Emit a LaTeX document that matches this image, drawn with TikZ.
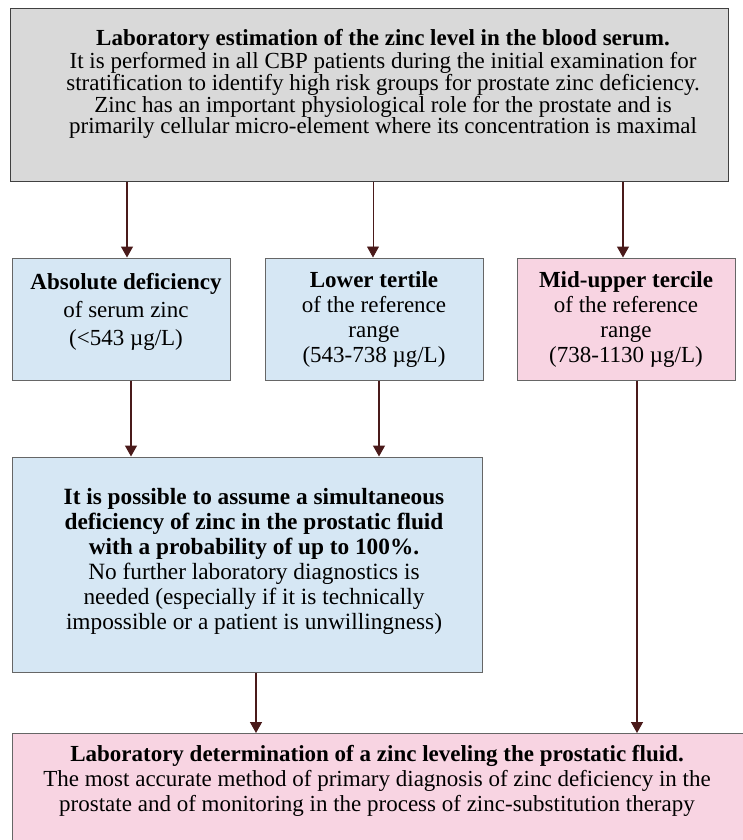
\documentclass[tikz,border=0pt]{standalone}
\usepackage{fontspec}
\setmainfont{Liberation Serif}
\usepackage{xcolor}
\usetikzlibrary{arrows.meta}

\definecolor{serumgray}{RGB}{217,217,217}
\definecolor{deficblue}{RGB}{214,231,244}
\definecolor{normpink}{RGB}{248,212,226}
\definecolor{linkbrown}{RGB}{74,26,26}

\tikzset{
  box/.style={draw=gray!80!black, line width=1, inner sep=0, align=center},
  link/.style={draw=linkbrown, line width=1.4, -{Triangle[width=12,length=11]}},
  txt/.style={inner sep=0, align=center}
}

\begin{document}
\begin{tikzpicture}[x=1pt,y=-1pt]
\useasboundingbox (0,0) rectangle (742,840);

% top box
\node[box, draw=black!75, fill=serumgray, minimum width=718, minimum height=172] (serum) at (369,95) {};
\node[txt, font=\fontsize{23}{21}\selectfont] (serumtxt) at (383,84) {\textbf{Laboratory estimation of the zinc level in the blood serum.}\\
It is performed in all CBP patients during the initial examination for\\
stratification to identify high risk groups for prostate zinc deficiency.\\
Zinc has an important physiological role for the prostate and is\\
primarily cellular micro-element where its concentration is maximal};

% three ranges
\node[box, fill=deficblue, minimum width=218, minimum height=122] (absdef) at (121,319) {};
\node[txt, font=\fontsize{23}{28}\selectfont] (absdeftxt) at (126,312) {\textbf{Absolute deficiency}\\ of serum zinc\\ (<543 µg/L)};
\node[box, fill=deficblue, minimum width=218, minimum height=122, font=\fontsize{23}{25}\selectfont] (lowter) at (374,319) {\textbf{Lower tertile}\\ of the reference\\ range\\ (543-738 µg/L)};
\node[box, fill=normpink, minimum width=218, minimum height=122, font=\fontsize{23}{25}\selectfont] (midup) at (626,319) {\textbf{Mid-upper tercile}\\ of the reference\\ range\\ (738-1130 µg/L)};

% assumption
\node[box, fill=deficblue, minimum width=470, minimum height=215] (assume) at (247,564.5) {};
\node[txt, font=\fontsize{23.3}{25}\selectfont] (assumetxt) at (254,561) {\textbf{It is possible to assume a simultaneous}\\
\textbf{deficiency of zinc in the prostatic fluid}\\
\textbf{with a probability of up to 100\%.}\\
No further laboratory diagnostics is\\
needed (especially if it is technically\\
impossible or a patient is unwillingness)};

% prostatic fluid
\node[box, fill=normpink, minimum width=760, minimum height=140, anchor=north west] (prostate) at (12,733) {};
\node[txt, font=\fontsize{23}{25}\selectfont] (prostatetxt) at (377,781) {\textbf{Laboratory determination of a zinc leveling the prostatic fluid.}\\
The most accurate method of primary diagnosis of zinc deficiency in the\\
prostate and of monitoring in the process of zinc-substitution therapy};

% connectors
\draw[link] ([xshift=6]absdef.north |- serum.south) -- ([xshift=6]absdef.north);
\draw[link, line width=0.8] ([xshift=-1]lowter.north |- serum.south) -- ([xshift=-1]lowter.north);
\draw[link] ([xshift=-3]midup.north |- serum.south) -- ([xshift=-3]midup.north);
\draw[link] ([xshift=10]absdef.south) -- ([xshift=10]absdef.south |- assume.north);
\draw[link] ([xshift=5]lowter.south) -- ([xshift=5]lowter.south |- assume.north);
\draw[link] ([xshift=9]assume.south) -- ([xshift=9]assume.south |- prostate.north);
\draw[link] ([xshift=11]midup.south) -- ([xshift=11]midup.south |- prostate.north);
\end{tikzpicture}
\end{document}
